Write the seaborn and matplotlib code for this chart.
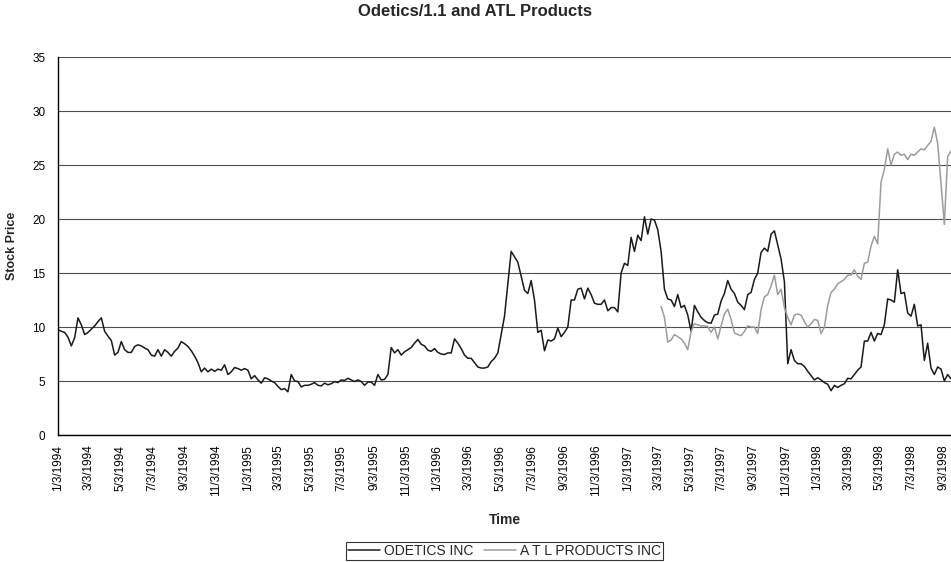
import numpy as np
import pandas as pd
import matplotlib
matplotlib.use("Agg")
import matplotlib.pyplot as plt
import seaborn as sns
from matplotlib.lines import Line2D

# ---------------- data ----------------
title = "Odetics/1.1 and ATL Products"
x_label = "Time"
y_label = "Stock Price"
series_names = ["ODETICS INC", "A T L PRODUCTS INC"]
series_colors = ["#1a1a1a", "#9c9c9c"]
start_date = "1994-01-03"
end_date = "1998-09-17"

odetics = [
    9.75, 9.6, 9.5, 9.05, 8.25, 9.0, 10.85, 10.2, 9.3, 9.5,
    9.8, 10.1, 10.5, 10.85, 9.6, 9.15, 8.75, 7.4, 7.65, 8.65,
    7.9, 7.65, 7.65, 8.2, 8.35, 8.25, 8.05, 7.9, 7.4, 7.3,
    7.9, 7.3, 7.9, 7.65, 7.3, 7.75, 8.05, 8.65, 8.45, 8.2,
    7.8, 7.3, 6.7, 5.85, 6.2, 5.85, 6.1,
    5.9, 6.1, 6.0, 6.5, 5.6, 5.85, 6.25, 6.15, 6.0, 6.15,
    6.0, 5.2, 5.5, 5.1, 4.8, 5.3, 5.2, 5.0, 4.85, 4.5,
    4.2, 4.3, 4.0, 5.6, 5.0, 4.95, 4.45, 4.6, 4.6, 4.7,
    4.85, 4.6, 4.55, 4.8, 4.65, 4.75, 4.95, 4.85, 5.1, 5.05,
    5.25, 5.1, 4.95, 5.1, 4.95, 4.6,
    4.9, 4.9, 4.6, 5.6, 5.1, 5.15, 5.6, 8.1, 7.6, 7.9,
    7.4, 7.7, 7.9, 8.1, 8.5, 8.85, 8.4, 8.25, 7.85, 7.75,
    8.0, 7.65, 7.5, 7.45, 7.6, 7.6, 8.9, 8.5, 8.0, 7.4,
    7.1, 7.1, 6.7, 6.3, 6.2, 6.2, 6.3, 6.8, 7.1, 7.6,
    9.3, 11.0, 14.0, 17.0, 16.5, 16.0,
    14.7, 13.4, 13.1, 14.3, 12.5, 9.5, 9.7, 7.8, 8.8, 8.7,
    8.9, 9.9, 9.1, 9.5, 10.0, 12.5, 12.5, 13.5, 13.6, 12.6,
    13.6, 13.0, 12.2, 12.1, 12.1, 12.5, 11.5, 11.8, 11.8, 11.4,
    15.0, 15.9, 15.7, 18.3, 17.0, 18.5, 18.0, 20.2, 18.6, 20.0,
    19.9, 19.0, 17.0, 13.5, 12.6, 12.5, 11.9,
    13.0, 11.8, 12.0, 11.1, 9.6, 12.0, 11.4, 10.9, 10.6, 10.4,
    10.35, 11.1, 11.2, 12.4, 13.1, 14.3, 13.5, 13.1, 12.3, 12.0,
    11.6, 13.0, 13.2, 14.4, 15.0, 16.9, 17.3, 17.0, 18.6, 18.9,
    17.6, 16.3, 14.2, 6.6, 7.9, 6.9, 6.6, 6.6, 6.35, 5.9,
    5.5, 5.1, 5.3, 5.1,
    4.85, 4.7, 4.1, 4.6, 4.4, 4.6, 4.75, 5.25, 5.2, 5.6,
    6.0, 6.3, 8.7, 8.7, 9.5, 8.7, 9.4, 9.3, 10.2, 12.6,
    12.5, 12.3, 15.3, 13.1, 13.2, 11.3, 11.0, 12.1, 10.1, 10.2,
    6.9, 8.5, 6.2, 5.6, 6.3, 6.1, 5.0, 5.6, 5.2,
]

atl_start_index = 181
atl = [
    11.9, 10.9, 8.6, 8.8, 9.3,
    9.1, 8.9, 8.5, 7.9, 9.6, 10.3, 10.2, 10.1, 10.1, 10.05,
    9.5, 10.0, 8.9, 10.1, 11.2, 11.65, 10.7, 9.45, 9.3, 9.2,
    9.6, 10.1, 10.0, 10.0, 9.4, 11.6, 12.8, 13.0, 13.8, 14.8,
    13.0, 13.5, 11.8, 10.9, 10.2, 11.1, 11.2, 11.1, 10.5, 10.0,
    10.3, 10.7, 10.6, 9.4,
    10.0, 12.0, 13.2, 13.5, 14.0, 14.2, 14.4, 14.8, 14.8, 15.3,
    14.7, 14.4, 15.9, 16.0, 17.5, 18.4, 17.7, 23.4, 24.6, 26.5,
    25.0, 26.0, 26.2, 25.9, 26.0, 25.5, 26.0, 25.9, 26.2, 26.5,
    26.4, 26.8, 27.2, 28.5, 27.0, 23.3, 19.5, 25.8, 26.3,
]

tick_labels = [
    "1/3/1994", "3/3/1994", "5/3/1994", "7/3/1994", "9/3/1994", "11/3/1994",
    "1/3/1995", "3/3/1995", "5/3/1995", "7/3/1995", "9/3/1995", "11/3/1995",
    "1/3/1996", "3/3/1996", "5/3/1996", "7/3/1996", "9/3/1996", "11/3/1996",
    "1/3/1997", "3/3/1997", "5/3/1997", "7/3/1997", "9/3/1997", "11/3/1997",
    "1/3/1998", "3/3/1998", "5/3/1998", "7/3/1998", "9/3/1998",
]
y_ticks = [0, 5, 10, 15, 20, 25, 30, 35]

# ---------------- build frame ----------------
dates = pd.date_range(start_date, end_date, periods=len(odetics))
df = pd.concat([
    pd.DataFrame({"date": dates, "price": odetics, "series": series_names[0]}),
    pd.DataFrame({"date": dates[atl_start_index:atl_start_index + len(atl)],
                  "price": atl, "series": series_names[1]}),
], ignore_index=True)

# ---------------- style ----------------
sns.set_style("white")
plt.rcParams["font.family"] = ["Liberation Sans", "DejaVu Sans"]

W, H = 951, 562
fig = plt.figure(figsize=(W / 100, H / 100), dpi=100)
ax = fig.add_axes([58 / W, 1 - 435 / H, 1 - 58 / W, (435 - 57) / H])

sns.lineplot(data=df, x="date", y="price", hue="series",
             palette=dict(zip(series_names, series_colors)),
             estimator=None, sort=False, linewidth=1.1, ax=ax, legend=False)

ax.set_xlim(pd.Timestamp(start_date), pd.Timestamp(end_date))
ax.set_ylim(0, 35)
ax.set_yticks(y_ticks)
ax.set_yticklabels([str(v) for v in y_ticks], fontsize=8.5)
tick_dates = pd.to_datetime(tick_labels, format="%m/%d/%Y")
ax.set_xticks(tick_dates)
ax.set_xticklabels(tick_labels, rotation=90, fontsize=8.5)

ax.yaxis.grid(True, color="#4f4f4f", linewidth=0.8)
ax.xaxis.grid(False)
ax.set_axisbelow(True)
for s in ["top", "right"]:
    ax.spines[s].set_visible(False)
ax.spines["left"].set_color("black")
ax.spines["bottom"].set_color("black")
ax.spines["left"].set_linewidth(1.0)
ax.spines["bottom"].set_linewidth(1.0)
ax.tick_params(axis="y", length=0, pad=9, colors="black")
ax.tick_params(axis="x", length=3, width=0.8, direction="out", pad=4, colors="black")

ax.set_xlabel(x_label, fontsize=10, fontweight="bold", labelpad=12)
ax.set_ylabel(y_label, fontsize=9, fontweight="bold", labelpad=10)

fig.text(0.5, 1 - 12 / H, title, ha="center", va="center",
         fontsize=12, fontweight="bold")

handles = [Line2D([], [], color=c, linewidth=1.1) for c in series_colors]
leg = fig.legend(handles, series_names, loc="center",
                 bbox_to_anchor=((58 + 951) / 2 / W, 1 - 551 / H),
                 ncol=2, fontsize=10, frameon=True, fancybox=False,
                 edgecolor="black", handlelength=2.3, handletextpad=0.3,
                 columnspacing=0.8, borderpad=0.15, borderaxespad=0)
leg.get_frame().set_linewidth(0.8)

fig.savefig("out.png", dpi=100)
